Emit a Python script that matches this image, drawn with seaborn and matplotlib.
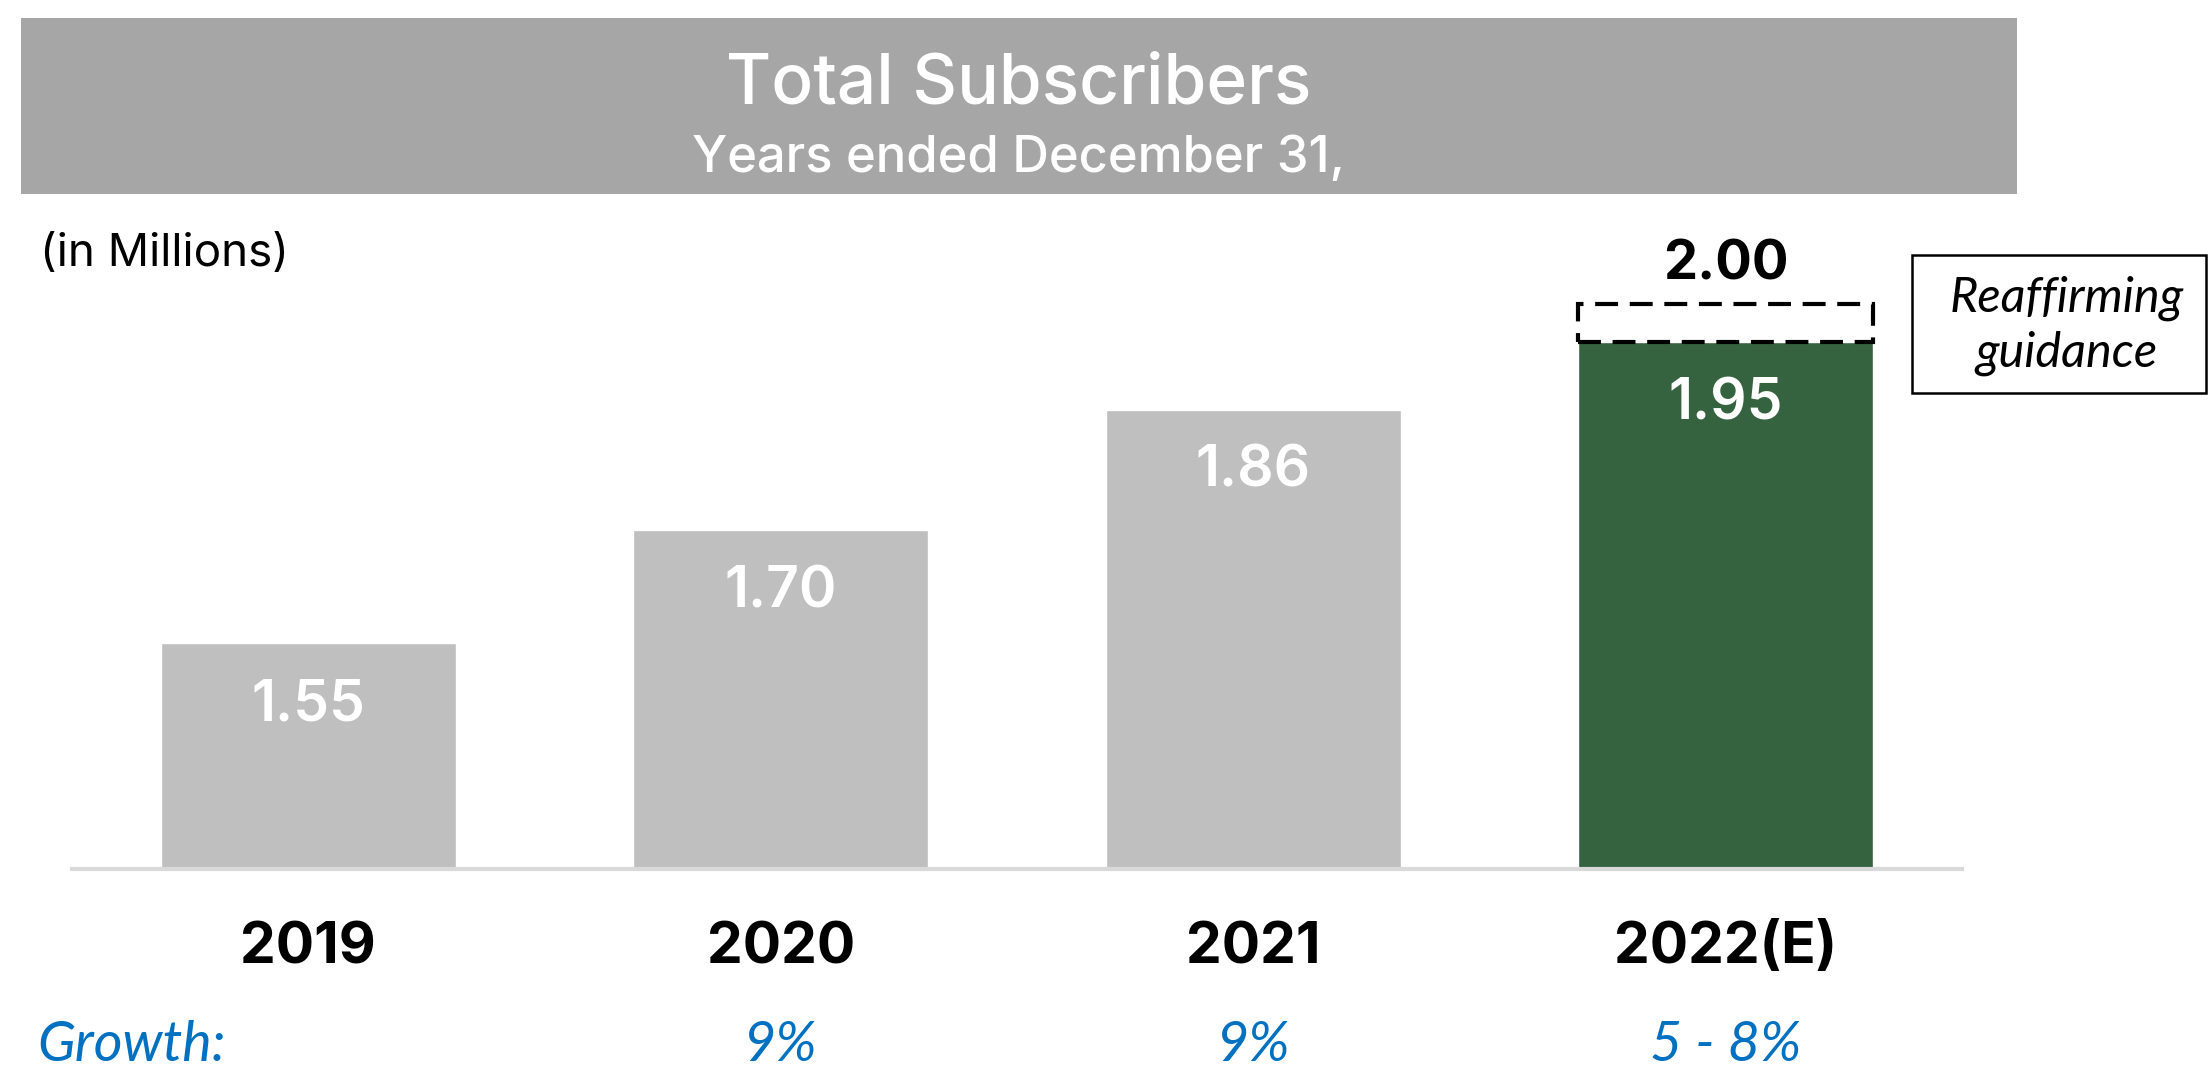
import matplotlib
matplotlib.use("Agg")
import matplotlib.pyplot as plt
from matplotlib.patches import Rectangle
import matplotlib.transforms as mtransforms
import seaborn as sns
import pandas as pd

# Data
years = ["2019", "2020", "2021", "2022(E)"]
subscribers = [1.55, 1.70, 1.86, 1.95]
value_labels = ["1.55", "1.70", "1.86", "1.95"]
guidance_value = 2.00
guidance_label = "2.00"
growth_labels = ["", "9%", "9%", "5 - 8%"]
bar_colors = ["#bfbfbf", "#bfbfbf", "#bfbfbf", "#356340"]

sns.set_theme(style="white")
plt.rcParams["font.family"] = ["Inter", "DejaVu Sans"]

W, H = 2209, 1067
fig = plt.figure(figsize=(W / 100, H / 100), dpi=100)
fig.patch.set_facecolor("white")


def fy(px):
    """Figure fraction for a pixel row measured from the top."""
    return 1 - px / H


def fx(px):
    return px / W


# Header banner
fig.patches.append(Rectangle((fx(21), fy(194)), fx(2017) - fx(21), fy(18) - fy(194),
                             transform=fig.transFigure, facecolor="#a6a6a6",
                             edgecolor="none", zorder=0))
fig.text(fx(1019), fy(103), "Total Subscribers", color="white", fontsize=50,
         fontweight="medium", ha="center", va="baseline")
fig.text(fx(1019), fy(172), "Years ended December 31,", color="white", fontsize=36.5,
         fontweight="medium", ha="center", va="baseline")
fig.text(fx(40), fy(266), "(in Millions)", color="black", fontsize=33,
         ha="left", va="baseline")

# Bar axes
ax = fig.add_axes([fx(72), fy(869), fx(1962) - fx(72), fy(199) - fy(869)])
df = pd.DataFrame({"year": years, "subs": subscribers})
sns.barplot(data=df, x="year", y="subs", hue="year", palette=bar_colors,
            width=0.624, legend=False, ax=ax, saturation=1)
ax.set_xlim(-0.5, 3.5)
ax.set_ylim(1.25, 2.14)
ax.set_xlabel("")
ax.set_ylabel("")
ax.set_xticks([])
ax.set_yticks([])
for side in ["top", "left", "right"]:
    ax.spines[side].set_visible(False)
ax.spines["bottom"].set_color("#d9d9d9")
ax.spines["bottom"].set_linewidth(3)
ax.patch.set_alpha(0)

# Guidance outline on the estimate bar
ax.bar([3], [guidance_value - subscribers[3]], bottom=[subscribers[3]], width=0.624,
       fill=False, edgecolor="black", linewidth=3, linestyle=(0, (5.5, 2.8)),
       zorder=3, clip_on=False)

# Value labels inside bars
for i, (v, lab) in enumerate(zip(subscribers, value_labels)):
    ax.annotate(lab, (i, v), xytext=(0, -77), textcoords="offset pixels",
                ha="center", va="baseline", color="white", fontsize=41,
                fontweight="semibold")
ax.annotate(guidance_label, (3, guidance_value), xytext=(0, 25), textcoords="offset pixels",
            ha="center", va="baseline", color="black", fontsize=39, fontweight="bold",
            annotation_clip=False)

# Category and growth rows
blend = mtransforms.blended_transform_factory(ax.transData, fig.transFigure)
for i, yr in enumerate(years):
    ax.text(i, fy(963), yr, transform=blend, ha="center", va="baseline",
            fontsize=41, fontweight="bold", color="black", clip_on=False)
for i, g in enumerate(growth_labels):
    if g:
        ax.text(i, fy(1061), g, transform=blend, ha="center", va="baseline",
                fontsize=40, style="italic", family=["Lato", "DejaVu Sans"],
                color="#0070c0", clip_on=False)
fig.text(fx(37), fy(1061), "Growth:", ha="left", va="baseline", fontsize=40,
         style="italic", family=["Lato", "DejaVu Sans"], color="#0070c0")

# Guidance note box
fig.patches.append(Rectangle((fx(1912), fy(393)), fx(2206) - fx(1912), fy(255) - fy(393),
                             transform=fig.transFigure, facecolor="white",
                             edgecolor="black", linewidth=1.8))
fig.text(fx(2067), fy(312), "Reaffirming", ha="center", va="baseline", fontsize=35,
         style="italic", family=["Lato", "DejaVu Sans"], color="black")
fig.text(fx(2066), fy(367), "guidance", ha="center", va="baseline", fontsize=35,
         style="italic", family=["Lato", "DejaVu Sans"], color="black")

fig.savefig("out.png", dpi=100)
